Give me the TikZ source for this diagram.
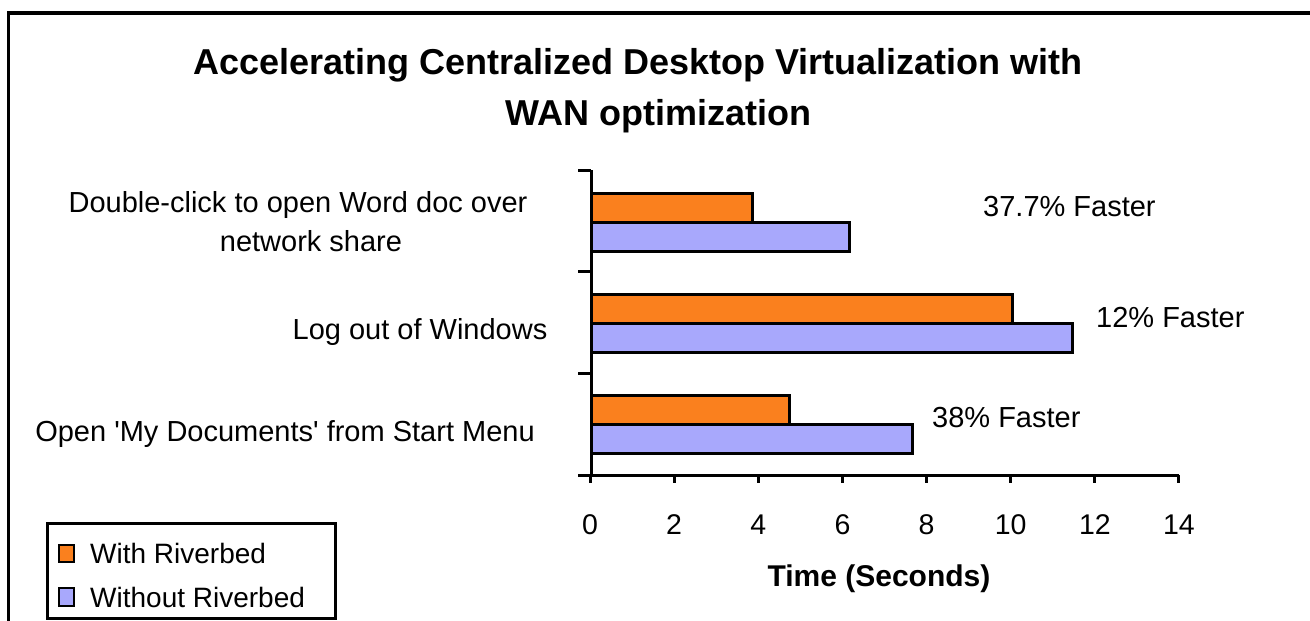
\documentclass[tikz,border=0pt]{standalone}
\usepackage{fontspec}
\setmainfont{Liberation Sans}
\definecolor{withrb}{RGB}{250,128,30}
\definecolor{withoutrb}{RGB}{168,168,252}
\begin{document}
\begin{tikzpicture}[x=1pt,y=-1pt,
  lbl/.style={inner sep=0pt,font=\fontsize{29}{35}\selectfont},
  tick/.style={inner sep=0pt,font=\fontsize{28.5}{34}\selectfont},
  ttl/.style={inner sep=0pt,font=\fontsize{36}{42}\selectfont\bfseries},
  bar/.style={draw=black,line width=3pt},
  axis/.style={draw=black,line width=3pt},
  leg/.style={inner sep=0pt,font=\fontsize{28}{34}\selectfont}]
\useasboundingbox (0,0) rectangle (1310,621);
\clip (0,0) rectangle (1310,621);
% frame
\draw[line width=3.5pt] (8.5,660) -- (8.5,13) -- (1340,13);
% title
\node[ttl,anchor=base west] (t1) at (193,74) {Accelerating Centralized Desktop Virtualization with};
\node[ttl,anchor=base west] (t2) at (505,125) {WAN optimization};
% bars: x = 590 + 42*v
\draw[bar,fill=withrb]    (591,193) rectangle ({590+42*3.88},222);
\draw[bar,fill=withoutrb] (591,222) rectangle ({590+42*6.17},251);
\draw[bar,fill=withrb]    (591,294) rectangle ({590+42*10.07},323);
\draw[bar,fill=withoutrb] (591,323) rectangle ({590+42*11.48},352);
\draw[bar,fill=withrb]    (591,395) rectangle ({590+42*4.74},424);
\draw[bar,fill=withoutrb] (591,424) rectangle ({590+42*7.69},453);
% axes
\draw[axis] (591,170) -- (591,475);
\foreach \y in {170,271.7,373.3,475} \draw[axis] (578,\y) -- (591,\y);
\draw[axis] (578,475) -- (1179,475);
\foreach \v in {0,2,...,14} {
  \draw[axis] ({590+42.07*\v},475) -- ({590+42.07*\v},483);
  \node[tick,anchor=base] (x\v) at ({590+42.07*\v},534) {\v};
}
\node[inner sep=0pt,anchor=base,font=\fontsize{30}{36}\selectfont\bfseries] (xl) at (879,586) {Time (Seconds)};
% category labels
\node[lbl,anchor=base] (c1a) at (298,212) {Double-click to open Word doc over};
\node[lbl,anchor=base] (c1b) at (311,251) {network share};
\node[lbl,anchor=base] (c2) at (420,339) {Log out of Windows};
\node[lbl,anchor=base] (c3) at (285,441) {Open \textquotesingle My Documents\textquotesingle{} from Start Menu};
% percentage labels
\node[lbl,anchor=base west] (p1) at (983,216) {37.7\% Faster};
\node[lbl,anchor=base west] (p2) at (1096,327) {12\% Faster};
\node[lbl,anchor=base west] (p3) at (932,427) {38\% Faster};
% legend
\draw[line width=3pt] (47,523) rectangle (335,618);
\draw[line width=2.5pt,fill=withrb] (59,545) rectangle (74,562);
\draw[line width=2.5pt,fill=withoutrb] (59,588) rectangle (74,606);
\node[leg,anchor=base west] (l1) at (90,563) {With Riverbed};
\node[leg,anchor=base west] (l2) at (90,607) {Without Riverbed};
\end{tikzpicture}
\end{document}
